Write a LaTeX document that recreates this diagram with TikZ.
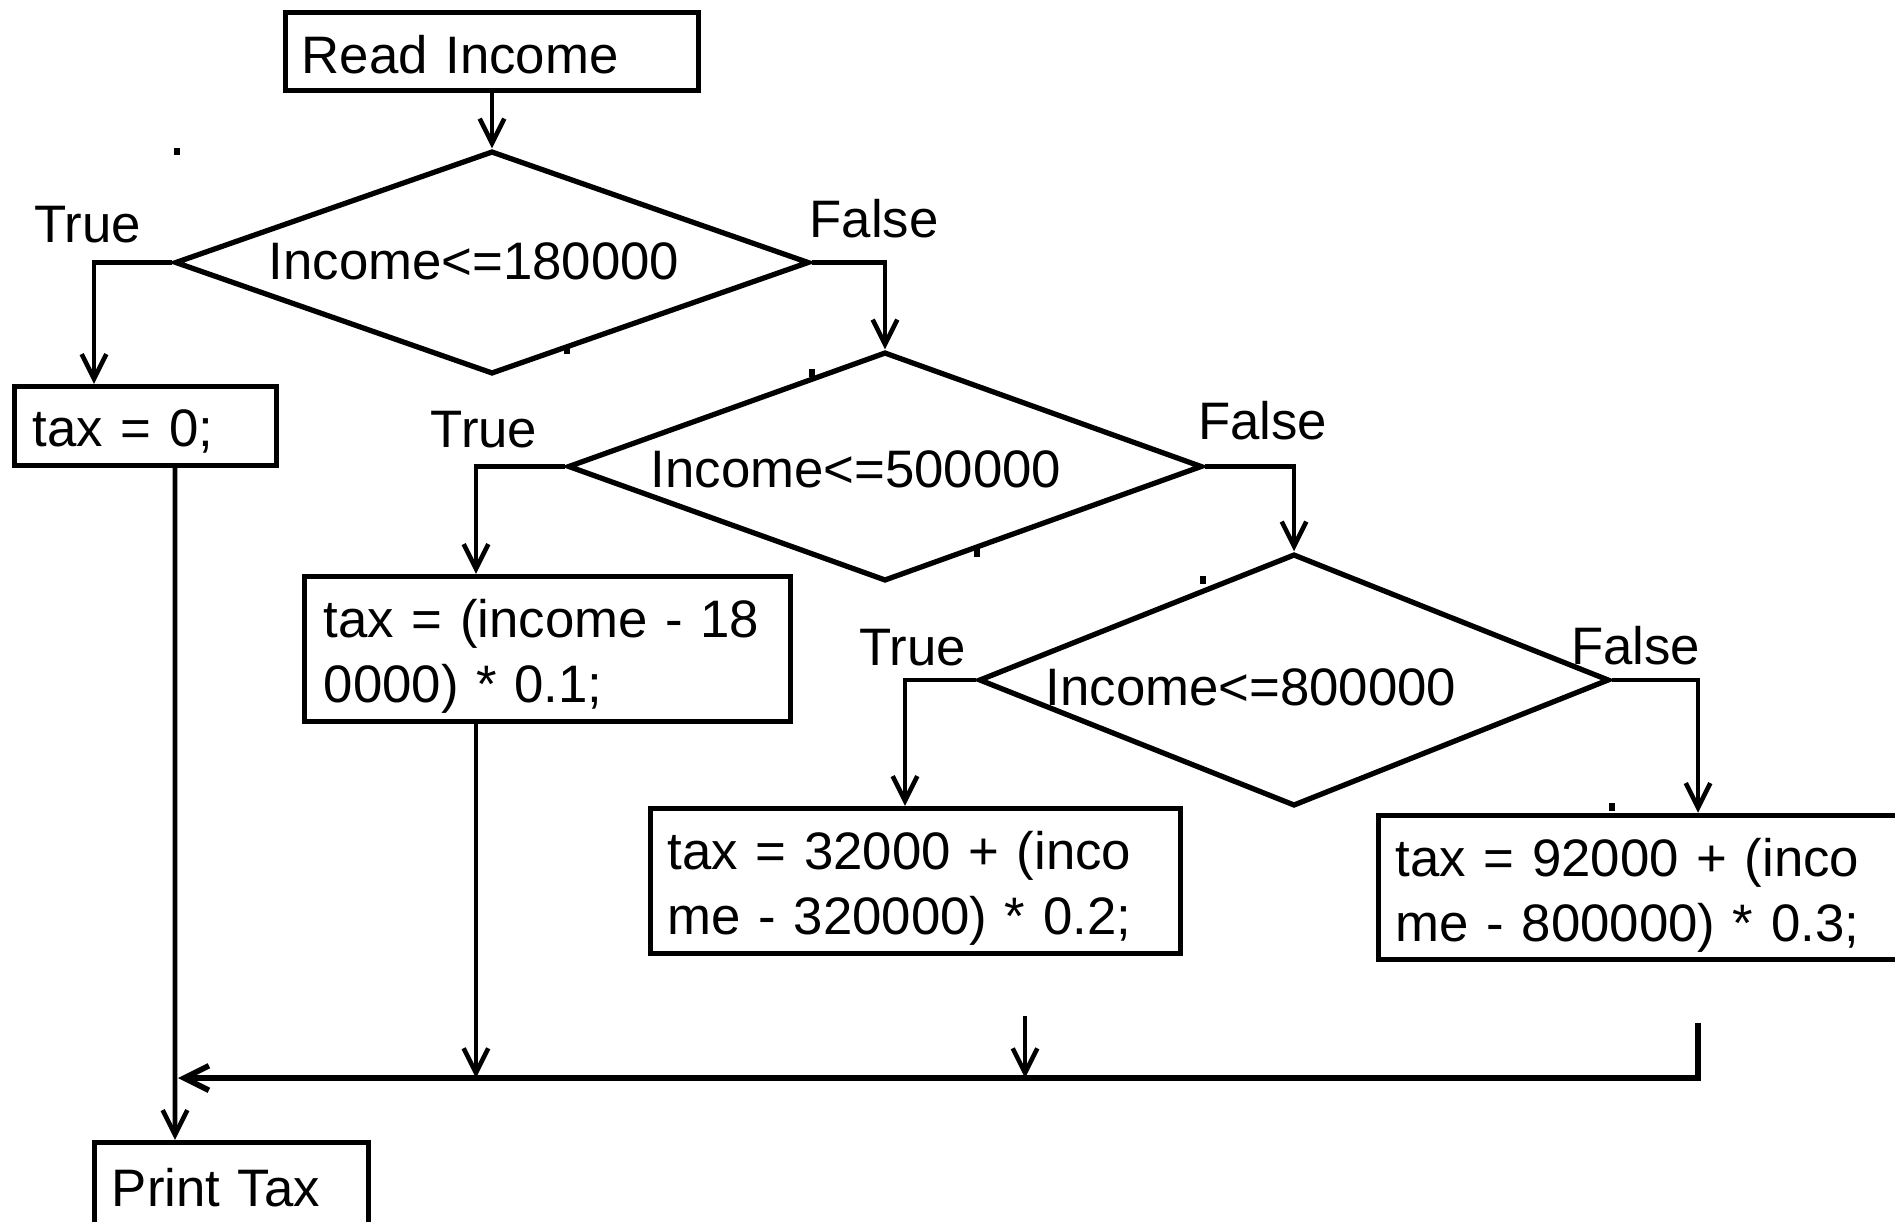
\documentclass[tikz,border=0pt]{standalone}
\usepackage{fontspec}
\setmainfont{Liberation Sans}[WordSpace=0.88]
\usetikzlibrary{shapes.geometric,arrows.meta,positioning,calc}

% first-line strut, pushes box text down a little
\newcommand{\lineraise}[1]{\rule{0pt}{#1}}

\begin{document}
\begin{tikzpicture}[
    x=0.01cm, y=-0.01cm,
    font=\fontsize{15}{18.5}\selectfont,
    procbox/.style={draw, line width=1.5pt, inner ysep=0pt, align=left},
    decbox/.style={draw, diamond, line width=1.5pt, inner sep=0pt},
    lbl/.style={inner sep=0pt},
    speck/.style={fill, inner sep=0pt, minimum width=0.06cm, minimum height=0.08cm},
    arrow/.style={-{Straight Barb[length=7pt, width=7pt]}, line width=1.3pt},
    mergeline/.style={-{Straight Barb[length=7pt, width=7pt]}, line width=1.6pt}
]
    \useasboundingbox (0,0) rectangle (1895,1221);

    % Start
    \node[procbox, minimum width=4.13cm, minimum height=0.78cm, inner xsep=0.165cm, text width=3.8cm] (read) at (492,51.5) {\lineraise{0.45cm}Read Income};

    % Decisions
    \node[decbox, minimum width=6.34cm, minimum height=2.23cm,
        label={[lbl, xshift=-0.18cm, yshift=0.015cm]center:Income<=180000}] (d1) at (492,262.5) {};
    \node[decbox, minimum width=6.34cm, minimum height=2.29cm,
        label={[lbl, xshift=-0.29cm, yshift=-0.025cm]center:Income<=500000}] (d2) at (885,466.5) {};
    \node[decbox, minimum width=6.30cm, minimum height=2.52cm,
        label={[lbl, xshift=-0.43cm, yshift=-0.07cm]center:Income<=800000}] (d3) at (1294,680) {};

    % Tax boxes
    \node[procbox, minimum width=2.62cm, minimum height=0.79cm, inner xsep=0.185cm, text width=2.25cm] (tax0) at (145.5,426) {\lineraise{0.48cm}tax = 0;};
    \node[procbox, minimum width=4.86cm, minimum height=1.45cm, inner xsep=0.195cm, text width=4.47cm] (tax1) at (547.5,649) {\lineraise{0.52cm}tax = (income - 18\\0000) * 0.1;};
    \node[procbox, minimum width=5.30cm, minimum height=1.45cm, inner xsep=0.175cm, text width=4.95cm] (tax2) at (915.5,881) {\lineraise{0.52cm}tax = 32000 + (inco\\me - 320000) * 0.2;};
    \node[procbox, minimum width=5.40cm, minimum height=1.44cm, inner xsep=0.175cm, text width=5.05cm] (tax3) at (1648.5,887.5) {\lineraise{0.54cm}tax = 92000 + (inco\\me - 800000) * 0.3;};

    % End
    \node[procbox, minimum width=2.74cm, minimum height=0.85cm, inner xsep=0.175cm, text width=2.39cm] (print) at (231.5,1185) {\lineraise{0.43cm}Print Tax};

    % Branch labels
    \node[lbl] (t1) at (87.5,225) {True};
    \node[lbl] (f1) at (874,218.5) {False};
    \node[lbl] (t2) at (484,429.5) {True};
    \node[lbl] (f2) at (1262.5,420.5) {False};
    \node[lbl] (t3) at (912.5,647.5) {True};
    \node[lbl] (f3) at (1635.5,645.5) {False};

    % Stray marks
    \node[speck, minimum height=0.07cm] (s1) at (176.5,151.5) {};
    \node[speck] (s2) at (567,350) {};
    \node[speck] (s3) at (812,373) {};
    \node[speck] (s4) at (977,553) {};
    \node[speck] (s5) at (1203,580) {};
    \node[speck] (s6) at (1612,807) {};

    % Flow
    \draw[arrow] (read.south) -- (d1.north);
    \draw[arrow] (d1.west) -| ([xshift=-0.515cm]tax0.north);
    \draw[arrow] (d1.east) -| (d2.north);
    \draw[arrow] (d2.west) -| ([xshift=-0.715cm]tax1.north);
    \draw[arrow] (d2.east) -| (d3.north);
    \draw[arrow] (d3.west) -| ([xshift=-0.105cm]tax2.north);
    \draw[arrow] (d3.east) -| ([xshift=0.495cm]tax3.north);
    \draw[arrow] ([xshift=0.295cm]tax0.south) -- ([xshift=-0.565cm]print.north);

    % Collecting line
    \coordinate (jL) at (178,1078);
    \coordinate (jR) at (1698,1078);
    \coordinate (e2) at (1025,1016);
    \coordinate (e3) at (1698,1023);
    \draw[mergeline] (e3) -- (jR) -- (jL);
    \draw[arrow] ([xshift=-0.715cm]tax1.south) -- ([xshift=-0.715cm]tax1.south |- jL);
    \draw[arrow] (e2) -- (e2 |- jL);

\end{tikzpicture}
\end{document}
